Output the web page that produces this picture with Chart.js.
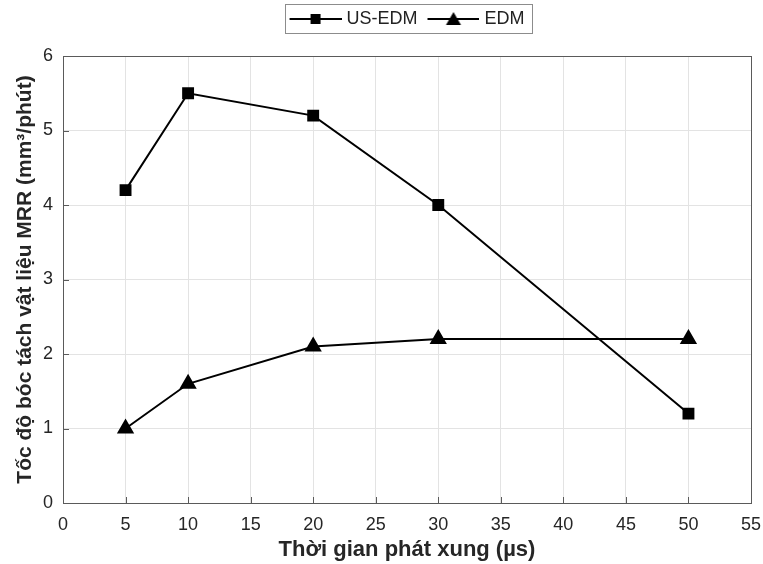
<!DOCTYPE html>
<html>
<head>
<meta charset="utf-8">
<script src="https://cdn.jsdelivr.net/npm/chart.js@4"></script>
<style>
  html, body { margin: 0; padding: 0; background: #fff; }
  #wrap { width: 763px; height: 564px; }
</style>
</head>
<body>
<div id="wrap"><canvas id="mrrChart" width="763" height="564"></canvas></div>
<script>
  const pulseTimes = [5, 10, 20, 30, 50];
  const usEdmValues = [4.2, 5.5, 5.2, 4.0, 1.2];
  const edmValues = [1.0, 1.6, 2.1, 2.2, 2.2];
  const xTicks = [0, 5, 10, 15, 20, 25, 30, 35, 40, 45, 50, 55];
  const yTicks = [0, 1, 2, 3, 4, 5, 6];

  const fontFamily = '"Liberation Sans", Arial, sans-serif';

  // legend icon: short line with the marker in the middle
  // canvas is 56 wide, line runs 4..56 so it sits flush with the hitbox start
  function legendIcon(style) {
    const c = document.createElement('canvas');
    c.width = 56; c.height = 16;
    const g = c.getContext('2d');
    g.strokeStyle = '#000';
    g.lineWidth = 2;
    g.beginPath(); g.moveTo(4, 8); g.lineTo(56, 8); g.stroke();
    g.fillStyle = '#000';
    if (style === 'rect') {
      g.fillRect(25, 3, 10, 10);
    } else {
      g.beginPath(); g.moveTo(30, 1); g.lineTo(37.5, 14); g.lineTo(22.5, 14); g.closePath(); g.fill();
    }
    return c;
  }

  const legendTweaks = {
    id: 'legendTweaks',
    afterInit(chart) {
      const lg = chart.legend;
      if (!lg) return;
      const fit = lg.fit;
      lg.fit = function () { fit.call(this); this.height = 56; };
    },
    afterDraw(chart) {
      const lg = chart.legend;
      if (!lg || !lg.legendHitBoxes.length) return;
      const boxes = lg.legendHitBoxes;
      const last = boxes[boxes.length - 1];
      const x0 = boxes[0].left - 5;
      const x1 = last.left + last.width + 7;
      const y0 = boxes[0].top - 6;
      const y1 = boxes[0].top + boxes[0].height + 5;
      const ctx = chart.ctx;
      ctx.save();
      ctx.strokeStyle = '#8c8c8c';
      ctx.lineWidth = 1;
      ctx.strokeRect(Math.round(x0) + 0.5, Math.round(y0) + 0.5, Math.round(x1 - x0), Math.round(y1 - y0));
      ctx.restore();
    }
  };

  const frame = {
    id: 'frame',
    afterDraw(chart) {
      const a = chart.chartArea;
      const ctx = chart.ctx;
      ctx.save();
      ctx.strokeStyle = '#5a5a5a';
      ctx.lineWidth = 1;
      ctx.strokeRect(Math.round(a.left) + 0.5, Math.round(a.top) + 0.5, Math.round(a.right - a.left), Math.round(a.bottom - a.top));
      // inward tick marks
      const xs = chart.scales.x, ys = chart.scales.y;
      ctx.beginPath();
      xTicks.forEach(v => {
        const px = Math.round(xs.getPixelForValue(v)) + 0.5;
        ctx.moveTo(px, a.bottom); ctx.lineTo(px, a.bottom - 6);
      });
      yTicks.forEach(v => {
        const py = Math.round(ys.getPixelForValue(v)) + 0.5;
        ctx.moveTo(a.left, py); ctx.lineTo(a.left + 6, py);
      });
      ctx.stroke();
      ctx.restore();
    }
  };

  const ctx = document.getElementById('mrrChart').getContext('2d');
  new Chart(ctx, {
    type: 'line',
    data: {
      datasets: [
        {
          label: 'US-EDM',
          data: pulseTimes.map((t, i) => ({ x: t, y: usEdmValues[i] })),
          borderColor: '#000',
          backgroundColor: '#000',
          borderWidth: 2,
          pointStyle: 'rect',
          pointRadius: 7,
          tension: 0
        },
        {
          label: 'EDM',
          data: pulseTimes.map((t, i) => ({ x: t, y: edmValues[i] })),
          borderColor: '#000',
          backgroundColor: '#000',
          borderWidth: 2,
          pointStyle: 'triangle',
          pointRadius: 8,
          tension: 0
        }
      ]
    },
    options: {
      responsive: false,
      animation: false,
      layout: { padding: { left: 0, right: 12, top: 0, bottom: 0 } },
      plugins: {
        legend: {
          position: 'top',
          fullSize: false,
          labels: {
            usePointStyle: true,
            pointStyleWidth: 48,
            boxHeight: 16,
            color: '#222',
            font: { family: fontFamily, size: 18 },
            padding: 10,
            generateLabels(chart) {
              return chart.data.datasets.map((ds, i) => ({
                text: ds.label,
                pointStyle: legendIcon(i === 0 ? 'rect' : 'triangle'),
                fillStyle: '#000',
                strokeStyle: '#000',
                lineWidth: 0,
                hidden: false,
                datasetIndex: i,
                fontColor: '#222'
              }));
            }
          }
        },
        tooltip: { enabled: false }
      },
      scales: {
        x: {
          type: 'linear',
          min: 0,
          max: 55,
          afterBuildTicks(scale) { scale.ticks = xTicks.map(v => ({ value: v })); },
          afterFit(scale) {
            scale.height = 61;
            scale.paddingLeft = 0;
            scale.paddingRight = 0;
          },
          grid: { color: '#e3e3e3', drawTicks: false },
          border: { display: false },
          ticks: { color: '#262626', font: { family: fontFamily, size: 18 }, padding: 11 },
          title: {
            display: true,
            text: 'Thời gian phát xung (µs)',
            color: '#262626',
            font: { family: fontFamily, size: 22, weight: 'bold' },
            padding: { top: 0, bottom: 1 }
          }
        },
        y: {
          type: 'linear',
          min: 0,
          max: 6,
          afterBuildTicks(scale) { scale.ticks = yTicks.map(v => ({ value: v })); },
          afterFit(scale) {
            scale.width = 63;
            scale.paddingTop = 0;
            scale.paddingBottom = 0;
          },
          grid: { color: '#e3e3e3', drawTicks: false },
          border: { display: false },
          ticks: { color: '#262626', font: { family: fontFamily, size: 18 }, padding: 10 },
          title: {
            display: true,
            text: 'Tốc độ bóc tách vật liệu MRR (mm³/phút)',
            color: '#262626',
            font: { family: fontFamily, size: 21, weight: 'bold' },
            padding: { top: 13, bottom: 0 }
          }
        }
      }
    },
    plugins: [legendTweaks, frame]
  });
</script>
</body>
</html>
